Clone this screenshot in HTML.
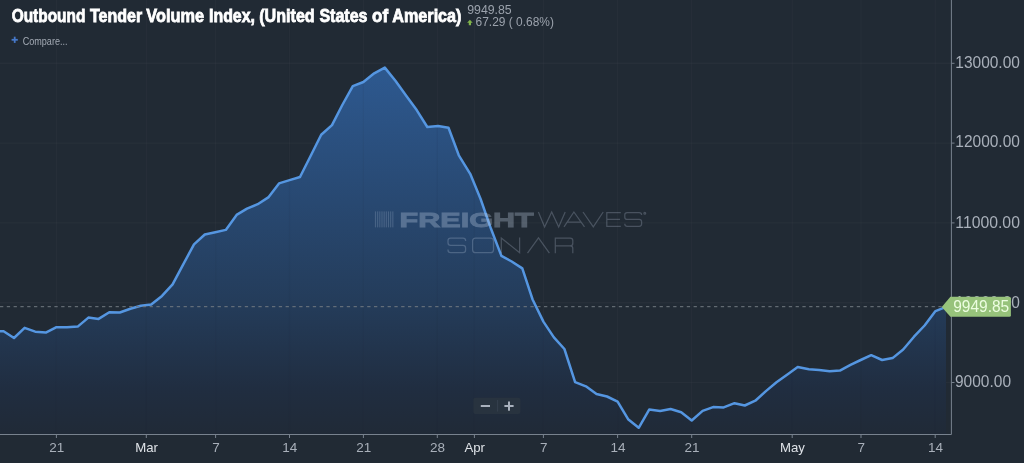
<!DOCTYPE html>
<html><head><meta charset="utf-8"><title>Chart</title>
<style>
html,body{margin:0;padding:0;background:#212a34;}
body{width:1024px;height:463px;overflow:hidden;font-family:"Liberation Sans",sans-serif;}
svg{display:block;filter:blur(0.45px)}
text{font-family:"Liberation Sans",sans-serif;}
</style></head><body>
<svg width="1024" height="463" viewBox="0 0 1024 463">
<defs>
<linearGradient id="ag" x1="0" y1="0" x2="0" y2="434" gradientUnits="userSpaceOnUse">
<stop offset="0" stop-color="#30619f"/>
<stop offset="0.70" stop-color="#243c5a"/>
<stop offset="0.90" stop-color="#202d40"/>
<stop offset="1" stop-color="#202a37"/>
</linearGradient>
<clipPath id="cp"><rect x="0" y="0" width="951" height="434.5"/></clipPath>
</defs>
<rect width="1024" height="463" fill="#212a34"/>

<line x1="56.4" y1="0" x2="56.4" y2="434" stroke="#ffffff" stroke-opacity="0.028" stroke-width="1.4"/>
<line x1="146.3" y1="0" x2="146.3" y2="434" stroke="#ffffff" stroke-opacity="0.028" stroke-width="1.4"/>
<line x1="215.6" y1="0" x2="215.6" y2="434" stroke="#ffffff" stroke-opacity="0.028" stroke-width="1.4"/>
<line x1="289.5" y1="0" x2="289.5" y2="434" stroke="#ffffff" stroke-opacity="0.028" stroke-width="1.4"/>
<line x1="363.4" y1="0" x2="363.4" y2="434" stroke="#ffffff" stroke-opacity="0.028" stroke-width="1.4"/>
<line x1="437.3" y1="0" x2="437.3" y2="434" stroke="#ffffff" stroke-opacity="0.028" stroke-width="1.4"/>
<line x1="474.4" y1="0" x2="474.4" y2="434" stroke="#ffffff" stroke-opacity="0.028" stroke-width="1.4"/>
<line x1="543.4" y1="0" x2="543.4" y2="434" stroke="#ffffff" stroke-opacity="0.028" stroke-width="1.4"/>
<line x1="617.6" y1="0" x2="617.6" y2="434" stroke="#ffffff" stroke-opacity="0.028" stroke-width="1.4"/>
<line x1="691.7" y1="0" x2="691.7" y2="434" stroke="#ffffff" stroke-opacity="0.028" stroke-width="1.4"/>
<line x1="792.2" y1="0" x2="792.2" y2="434" stroke="#ffffff" stroke-opacity="0.028" stroke-width="1.4"/>
<line x1="861.0" y1="0" x2="861.0" y2="434" stroke="#ffffff" stroke-opacity="0.028" stroke-width="1.4"/>
<line x1="935.2" y1="0" x2="935.2" y2="434" stroke="#ffffff" stroke-opacity="0.028" stroke-width="1.4"/>
<line x1="0" y1="63.3" x2="951" y2="63.3" stroke="#ffffff" stroke-opacity="0.028" stroke-width="1.4"/>
<line x1="0" y1="143.1" x2="951" y2="143.1" stroke="#ffffff" stroke-opacity="0.028" stroke-width="1.4"/>
<line x1="0" y1="222.9" x2="951" y2="222.9" stroke="#ffffff" stroke-opacity="0.028" stroke-width="1.4"/>
<line x1="0" y1="302.7" x2="951" y2="302.7" stroke="#ffffff" stroke-opacity="0.028" stroke-width="1.4"/>
<line x1="0" y1="382.5" x2="951" y2="382.5" stroke="#ffffff" stroke-opacity="0.028" stroke-width="1.4"/>
<path d="M-7.0,331.4 L3.6,331.2 L14.0,338.0 L24.6,327.8 L35.2,331.7 L45.8,332.6 L56.5,327.2 L67.0,327.2 L77.7,326.6 L88.4,317.6 L98.6,318.9 L109.3,312.2 L119.8,312.5 L130.4,308.7 L140.8,305.8 L151.2,304.5 L162.0,295.9 L172.6,284.4 L183.1,264.6 L194.0,244.4 L204.8,234.5 L215.3,232.2 L225.8,229.9 L236.6,214.9 L247.0,208.6 L257.7,204.2 L268.3,197.4 L279.0,183.4 L289.6,180.1 L300.0,177.0 L310.6,156.0 L321.2,134.7 L332.0,125.1 L342.3,105.0 L352.8,86.1 L363.4,82.0 L374.2,73.3 L384.8,67.6 L395.6,81.0 L406.2,95.7 L416.7,110.1 L427.3,127.0 L438.1,126.1 L448.5,127.8 L458.8,155.3 L470.2,173.8 L480.6,199.0 L491.0,228.8 L501.4,255.9 L511.7,261.5 L522.3,268.4 L532.6,299.5 L543.4,321.6 L553.9,337.4 L564.4,349.0 L575.1,382.1 L585.9,386.3 L596.5,394.0 L607.0,396.5 L617.6,401.6 L628.1,419.2 L638.7,427.8 L649.2,409.6 L660.1,410.9 L670.6,409.0 L681.2,412.2 L691.7,420.5 L702.6,410.9 L713.1,407.1 L723.7,407.4 L734.5,403.2 L744.8,405.5 L755.3,400.7 L765.9,391.1 L776.5,382.3 L787.4,374.4 L797.7,367.1 L808.9,369.3 L819.1,369.9 L829.7,371.2 L839.9,370.6 L850.5,364.8 L860.7,360.0 L871.2,355.2 L882.1,360.0 L892.6,358.1 L903.2,349.5 L914.0,336.7 L924.6,325.5 L935.5,311.1 L946.0,306.8 L946,434.5 L-7,434.5 Z" fill="url(#ag)" clip-path="url(#cp)"/>
<line x1="56.4" y1="0" x2="56.4" y2="434" stroke="#1c2430" stroke-opacity="0.06" stroke-width="1.2" clip-path="url(#cp)"/>
<line x1="146.3" y1="0" x2="146.3" y2="434" stroke="#1c2430" stroke-opacity="0.06" stroke-width="1.2" clip-path="url(#cp)"/>
<line x1="215.6" y1="0" x2="215.6" y2="434" stroke="#1c2430" stroke-opacity="0.06" stroke-width="1.2" clip-path="url(#cp)"/>
<line x1="289.5" y1="0" x2="289.5" y2="434" stroke="#1c2430" stroke-opacity="0.06" stroke-width="1.2" clip-path="url(#cp)"/>
<line x1="363.4" y1="0" x2="363.4" y2="434" stroke="#1c2430" stroke-opacity="0.06" stroke-width="1.2" clip-path="url(#cp)"/>
<line x1="437.3" y1="0" x2="437.3" y2="434" stroke="#1c2430" stroke-opacity="0.06" stroke-width="1.2" clip-path="url(#cp)"/>
<line x1="474.4" y1="0" x2="474.4" y2="434" stroke="#1c2430" stroke-opacity="0.06" stroke-width="1.2" clip-path="url(#cp)"/>
<line x1="543.4" y1="0" x2="543.4" y2="434" stroke="#1c2430" stroke-opacity="0.06" stroke-width="1.2" clip-path="url(#cp)"/>
<line x1="617.6" y1="0" x2="617.6" y2="434" stroke="#1c2430" stroke-opacity="0.06" stroke-width="1.2" clip-path="url(#cp)"/>
<line x1="691.7" y1="0" x2="691.7" y2="434" stroke="#1c2430" stroke-opacity="0.06" stroke-width="1.2" clip-path="url(#cp)"/>
<line x1="792.2" y1="0" x2="792.2" y2="434" stroke="#1c2430" stroke-opacity="0.06" stroke-width="1.2" clip-path="url(#cp)"/>
<line x1="861.0" y1="0" x2="861.0" y2="434" stroke="#1c2430" stroke-opacity="0.06" stroke-width="1.2" clip-path="url(#cp)"/>
<line x1="935.2" y1="0" x2="935.2" y2="434" stroke="#1c2430" stroke-opacity="0.06" stroke-width="1.2" clip-path="url(#cp)"/>
<path d="M-7.0,331.4 L3.6,331.2 L14.0,338.0 L24.6,327.8 L35.2,331.7 L45.8,332.6 L56.5,327.2 L67.0,327.2 L77.7,326.6 L88.4,317.6 L98.6,318.9 L109.3,312.2 L119.8,312.5 L130.4,308.7 L140.8,305.8 L151.2,304.5 L162.0,295.9 L172.6,284.4 L183.1,264.6 L194.0,244.4 L204.8,234.5 L215.3,232.2 L225.8,229.9 L236.6,214.9 L247.0,208.6 L257.7,204.2 L268.3,197.4 L279.0,183.4 L289.6,180.1 L300.0,177.0 L310.6,156.0 L321.2,134.7 L332.0,125.1 L342.3,105.0 L352.8,86.1 L363.4,82.0 L374.2,73.3 L384.8,67.6 L395.6,81.0 L406.2,95.7 L416.7,110.1 L427.3,127.0 L438.1,126.1 L448.5,127.8 L458.8,155.3 L470.2,173.8 L480.6,199.0 L491.0,228.8 L501.4,255.9 L511.7,261.5 L522.3,268.4 L532.6,299.5 L543.4,321.6 L553.9,337.4 L564.4,349.0 L575.1,382.1 L585.9,386.3 L596.5,394.0 L607.0,396.5 L617.6,401.6 L628.1,419.2 L638.7,427.8 L649.2,409.6 L660.1,410.9 L670.6,409.0 L681.2,412.2 L691.7,420.5 L702.6,410.9 L713.1,407.1 L723.7,407.4 L734.5,403.2 L744.8,405.5 L755.3,400.7 L765.9,391.1 L776.5,382.3 L787.4,374.4 L797.7,367.1 L808.9,369.3 L819.1,369.9 L829.7,371.2 L839.9,370.6 L850.5,364.8 L860.7,360.0 L871.2,355.2 L882.1,360.0 L892.6,358.1 L903.2,349.5 L914.0,336.7 L924.6,325.5 L935.5,311.1 L946.0,306.8" fill="none" stroke="#5596e1" stroke-width="2.5" stroke-linejoin="round" stroke-linecap="round" clip-path="url(#cp)"/>
<g id="wm">
<g fill="#c8d7eb" fill-opacity="0.20"><rect x="374.90" y="211.4" width="1.15" height="16" /><rect x="377.07" y="211.4" width="1.15" height="16" /><rect x="379.24" y="211.4" width="1.15" height="16" /><rect x="381.41" y="211.4" width="1.15" height="16" /><rect x="383.58" y="211.4" width="1.15" height="16" /><rect x="385.75" y="211.4" width="1.15" height="16" /><rect x="387.92" y="211.4" width="1.15" height="16" /><rect x="390.09" y="211.4" width="1.15" height="16" /><rect x="392.26" y="211.4" width="1.15" height="16" /></g>
<g opacity="0.30"><text x="399.6" y="226.8" font-size="21" font-weight="bold" fill="#c8d7eb" stroke="#c8d7eb" stroke-width="0.9" textLength="134" lengthAdjust="spacingAndGlyphs">FREIGHT</text></g>
<g fill="none" stroke="#c8d7eb" stroke-opacity="0.24" stroke-width="1.25" stroke-linejoin="miter">
<path d="M538.4,212 L544.6,226.9 L551.7,212 L558.7,226.9 L565.2,212"/>
<path d="M564,226.9 L573.9,212 L584.5,226.9 M567.3,222.2 H581.2"/>
<path d="M583,212 L593.3,226.9 L603.2,212"/>
<path d="M620.8,212.6 H606.8 V226.3 H620.8 M606.8,219.3 H620"/>
<path d="M641.6,215 V214.8 Q641.6,212.6 639.2,212.6 H627.2 Q624.8,212.6 624.8,214.8 V217.2 Q624.8,219.4 627.2,219.4 H639.2 Q641.6,219.4 641.6,221.8 V224.1 Q641.6,226.3 639.2,226.3 H627.2 Q624.8,226.3 624.8,224.1 V223.8"/>
<circle cx="644.8" cy="213.2" r="0.9"/>
<path d="M465.6,241 V240.6 Q465.6,238 463,238 H450.6 Q448,238 448,240.6 V242.7 Q448,245.3 450.6,245.3 H463 Q465.6,245.3 465.6,247.9 V250.1 Q465.6,252.7 463,252.7 H450.6 Q448,252.7 448,250.1 V249.6"/>
<rect x="472.6" y="238" width="20.9" height="14.7" rx="3" ry="3"/>
<path d="M501.3,253.2 V238 L519.6,252.7 V237.5"/>
<path d="M527.5,253.2 L538.5,237.8 L549.4,253.2"/>
<path d="M555.3,253.2 V238 H570.2 Q572.8,238 572.8,240.6 V243.2 Q572.8,245.8 570.2,245.8 H555.3 M570.2,245.8 Q572.8,245.8 572.8,248.4 V253.2"/>
</g></g>
<line x1="0" y1="306.7" x2="951" y2="306.7" stroke="#727981" stroke-width="1" stroke-dasharray="3.3 3.5"/>
<line x1="951.4" y1="0" x2="951.4" y2="434.5" stroke="#78828e" stroke-width="1"/>
<line x1="0" y1="434.5" x2="951.4" y2="434.5" stroke="#78828e" stroke-width="1"/>
<line x1="56.4" y1="434.5" x2="56.4" y2="438" stroke="#78828e" stroke-width="1"/>
<line x1="146.3" y1="434.5" x2="146.3" y2="438" stroke="#78828e" stroke-width="1"/>
<line x1="215.6" y1="434.5" x2="215.6" y2="438" stroke="#78828e" stroke-width="1"/>
<line x1="289.5" y1="434.5" x2="289.5" y2="438" stroke="#78828e" stroke-width="1"/>
<line x1="363.4" y1="434.5" x2="363.4" y2="438" stroke="#78828e" stroke-width="1"/>
<line x1="437.3" y1="434.5" x2="437.3" y2="438" stroke="#78828e" stroke-width="1"/>
<line x1="474.4" y1="434.5" x2="474.4" y2="438" stroke="#78828e" stroke-width="1"/>
<line x1="543.4" y1="434.5" x2="543.4" y2="438" stroke="#78828e" stroke-width="1"/>
<line x1="617.6" y1="434.5" x2="617.6" y2="438" stroke="#78828e" stroke-width="1"/>
<line x1="691.7" y1="434.5" x2="691.7" y2="438" stroke="#78828e" stroke-width="1"/>
<line x1="792.2" y1="434.5" x2="792.2" y2="438" stroke="#78828e" stroke-width="1"/>
<line x1="861.0" y1="434.5" x2="861.0" y2="438" stroke="#78828e" stroke-width="1"/>
<line x1="935.2" y1="434.5" x2="935.2" y2="438" stroke="#78828e" stroke-width="1"/>
<line x1="951.4" y1="63.3" x2="954.5" y2="63.3" stroke="#78828e" stroke-width="1"/>
<line x1="951.4" y1="143.1" x2="954.5" y2="143.1" stroke="#78828e" stroke-width="1"/>
<line x1="951.4" y1="222.9" x2="954.5" y2="222.9" stroke="#78828e" stroke-width="1"/>
<line x1="951.4" y1="302.7" x2="954.5" y2="302.7" stroke="#78828e" stroke-width="1"/>
<line x1="951.4" y1="382.5" x2="954.5" y2="382.5" stroke="#78828e" stroke-width="1"/>
<text x="56.699999999999996" y="452.3" font-size="13.5" fill="#a9b0ba" text-anchor="middle">21</text>
<text x="146.60000000000002" y="452.3" font-size="13.2" fill="#dfe3e8" text-anchor="middle">Mar</text>
<text x="215.9" y="452.3" font-size="13.5" fill="#a9b0ba" text-anchor="middle">7</text>
<text x="289.8" y="452.3" font-size="13.5" fill="#a9b0ba" text-anchor="middle">14</text>
<text x="363.7" y="452.3" font-size="13.5" fill="#a9b0ba" text-anchor="middle">21</text>
<text x="437.6" y="452.3" font-size="13.5" fill="#a9b0ba" text-anchor="middle">28</text>
<text x="474.7" y="452.3" font-size="13.2" fill="#dfe3e8" text-anchor="middle">Apr</text>
<text x="543.6999999999999" y="452.3" font-size="13.5" fill="#a9b0ba" text-anchor="middle">7</text>
<text x="617.9" y="452.3" font-size="13.5" fill="#a9b0ba" text-anchor="middle">14</text>
<text x="692.0" y="452.3" font-size="13.5" fill="#a9b0ba" text-anchor="middle">21</text>
<text x="792.5" y="452.3" font-size="13.2" fill="#dfe3e8" text-anchor="middle">May</text>
<text x="861.3" y="452.3" font-size="13.5" fill="#a9b0ba" text-anchor="middle">7</text>
<text x="935.5" y="452.3" font-size="13.5" fill="#a9b0ba" text-anchor="middle">14</text>
<text x="955.3" y="68" font-size="16" fill="#a9b0ba" textLength="64.6" lengthAdjust="spacingAndGlyphs">13000.00</text>
<text x="955.3" y="147.4" font-size="16" fill="#a9b0ba" textLength="64.6" lengthAdjust="spacingAndGlyphs">12000.00</text>
<text x="955.3" y="227.5" font-size="16" fill="#a9b0ba" textLength="64.6" lengthAdjust="spacingAndGlyphs">11000.00</text>
<text x="955.3" y="308" font-size="16" fill="#a9b0ba" textLength="64.6" lengthAdjust="spacingAndGlyphs">10000.00</text>
<text x="955.0" y="387.2" font-size="16" fill="#a9b0ba" textLength="56.0" lengthAdjust="spacingAndGlyphs">9000.00</text>
<path d="M941.8,307 L950.4,296.7 L1009.4,296.7 Q1010.9,296.7 1010.9,298.2 L1010.9,315.2 Q1010.9,316.7 1009.4,316.7 L950.4,316.7 Z" fill="#97c37b"/>
<text x="953.2" y="312.3" font-size="16" fill="#ecfde0" textLength="56" lengthAdjust="spacingAndGlyphs">9949.85</text>
<rect x="473.4" y="397.7" width="47" height="16.2" rx="2" fill="#28333f"/>
<line x1="497.6" y1="400" x2="497.6" y2="411.5" stroke="#35414e" stroke-width="1"/>
<rect x="480.8" y="405" width="9.2" height="2" fill="#a9b1bd"/>
<rect x="504.4" y="405" width="9.2" height="2" fill="#a9b1bd"/>
<rect x="508" y="401.5" width="2" height="9.2" fill="#a9b1bd"/>
<text class="tw" x="11.70" y="21.6" font-size="18.7" font-weight="bold" fill="#ffffff" stroke="#ffffff" stroke-width="0.8" textLength="73.70" lengthAdjust="spacingAndGlyphs">Outbound</text>
<text class="tw" x="89.90" y="21.6" font-size="18.7" font-weight="bold" fill="#ffffff" stroke="#ffffff" stroke-width="0.8" textLength="52.30" lengthAdjust="spacingAndGlyphs">Tender</text>
<text class="tw" x="146.30" y="21.6" font-size="18.7" font-weight="bold" fill="#ffffff" stroke="#ffffff" stroke-width="0.8" textLength="57.80" lengthAdjust="spacingAndGlyphs">Volume</text>
<text class="tw" x="209.00" y="21.6" font-size="18.7" font-weight="bold" fill="#ffffff" stroke="#ffffff" stroke-width="0.8" textLength="46.00" lengthAdjust="spacingAndGlyphs">Index,</text>
<text class="tw" x="259.20" y="21.6" font-size="18.7" font-weight="bold" fill="#ffffff" stroke="#ffffff" stroke-width="0.8" textLength="55.50" lengthAdjust="spacingAndGlyphs">(United</text>
<text class="tw" x="319.40" y="21.6" font-size="18.7" font-weight="bold" fill="#ffffff" stroke="#ffffff" stroke-width="0.8" textLength="48.10" lengthAdjust="spacingAndGlyphs">States</text>
<text class="tw" x="372.10" y="21.6" font-size="18.7" font-weight="bold" fill="#ffffff" stroke="#ffffff" stroke-width="0.8" textLength="16.00" lengthAdjust="spacingAndGlyphs">of</text>
<text class="tw" x="392.30" y="21.6" font-size="18.7" font-weight="bold" fill="#ffffff" stroke="#ffffff" stroke-width="0.8" textLength="69.20" lengthAdjust="spacingAndGlyphs">America)</text>
<text x="467.2" y="14.2" font-size="12" fill="#9ba2ac" textLength="44.5" lengthAdjust="spacingAndGlyphs">9949.85</text>
<path d="M469.9,19.8 L472.7,22.8 L471,22.8 L471,25.3 L468.8,25.3 L468.8,22.8 L467.1,22.8 Z" fill="#80b34a"/>
<text x="475.6" y="25.9" font-size="12" fill="#9ba2ac" textLength="78.3" lengthAdjust="spacingAndGlyphs">67.29 ( 0.68%)</text>
<rect x="11.6" y="38.9" width="6.2" height="1.8" fill="#4678c8"/><rect x="13.8" y="36.7" width="1.8" height="6.2" fill="#4678c8"/>
<text x="22.7" y="45.2" font-size="10.6" fill="#a3aab4" textLength="44.8" lengthAdjust="spacingAndGlyphs">Compare...</text>
</svg></body></html>
